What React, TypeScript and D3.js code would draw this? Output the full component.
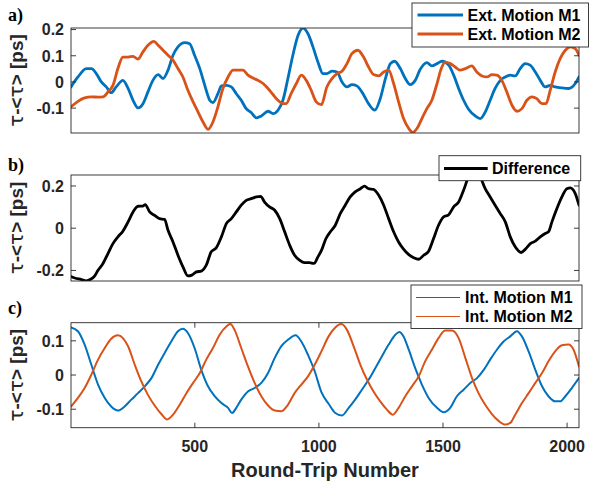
import React from "react";
import * as d3 from "d3";

// ---------- data ----------
const xDomain: [number, number] = [1, 2048];
const xTicks = [500, 1000, 1500, 2000];

const extM1: [number, number][] = [[1,-0.019],[29,0.019],[63,0.051],[83,0.051],[103,0.032],[123,0],[143,-0.019],[163,-0.041],[183,-0.019],[210,0.006],[231,-0.025],[251,-0.07],[271,-0.099],[291,-0.083],[311,-0.038],[331,0.006],[352,0.028],[372,0.013],[392,0.045],[412,0.102],[432,0.134],[459,0.15],[479,0.146],[499,0.102],[520,0.051],[540,-0.013],[560,-0.07],[573,-0.079],[593,-0.045],[607,-0.015],[627,-0.013],[647,-0.019],[667,-0.045],[687,-0.07],[707,-0.102],[727,-0.117],[748,-0.137],[768,-0.13],[795,-0.112],[815,-0.121],[835,-0.108],[855,-0.07],[875,0.013],[895,0.102],[916,0.178],[936,0.206],[956,0.184],[976,0.134],[996,0.076],[1016,0.032],[1032,0.032],[1053,0.041],[1073,0.038],[1093,0],[1113,-0.019],[1133,-0.01],[1153,-0.015],[1173,-0.038],[1200,-0.083],[1225,-0.108],[1247,-0.064],[1268,0.013],[1288,0.07],[1305,0.079],[1328,0.051],[1348,0.013],[1368,-0.01],[1388,0.006],[1408,0.048],[1435,0.074],[1455,0.061],[1476,0.07],[1496,0.079],[1523,0.064],[1543,0.026],[1563,-0.025],[1583,-0.07],[1603,-0.104],[1630,-0.13],[1650,-0.14],[1670,-0.115],[1690,-0.07],[1710,-0.025],[1731,0.006],[1751,0.019],[1771,0.026],[1791,0.023],[1811,0.051],[1831,0.07],[1851,0.064],[1872,0.038],[1892,0.006],[1912,-0.019],[1932,-0.013],[1952,-0.019],[1979,-0.023],[2006,-0.025],[2033,-0.006],[2048,0.019]];

const extM2: [number, number][] = [[1,-0.095],[29,-0.074],[56,-0.061],[83,-0.057],[110,-0.058],[130,-0.057],[150,-0.038],[170,-0.013],[190,0.051],[210,0.095],[231,0.095],[251,0.098],[271,0.087],[291,0.115],[311,0.14],[335,0.155],[352,0.14],[372,0.121],[392,0.102],[412,0.083],[432,0.051],[452,0.019],[472,-0.032],[493,-0.076],[513,-0.115],[533,-0.153],[553,-0.181],[573,-0.153],[593,-0.095],[613,-0.025],[634,0.019],[654,0.045],[674,0.045],[694,0.045],[714,0.026],[734,0.015],[755,0.006],[775,-0.006],[795,-0.025],[815,-0.048],[835,-0.07],[855,-0.083],[868,-0.083],[888,-0.045],[909,-0.006],[929,0.026],[949,0.006],[969,-0.032],[989,-0.076],[1010,-0.087],[1032,-0.019],[1053,0.013],[1073,0.032],[1093,0.041],[1113,0.07],[1133,0.108],[1157,0.121],[1180,0.095],[1200,0.057],[1220,0.028],[1241,0.023],[1261,0.038],[1281,0.045],[1301,-0.006],[1321,-0.076],[1341,-0.14],[1362,-0.178],[1378,-0.193],[1395,-0.178],[1415,-0.14],[1435,-0.102],[1455,-0.07],[1476,-0.006],[1493,0.051],[1509,0.076],[1529,0.07],[1549,0.057],[1569,0.045],[1590,0.051],[1616,0.061],[1636,0.038],[1657,0.023],[1677,0.019],[1697,0.028],[1717,0.026],[1737,0.006],[1757,-0.038],[1778,-0.089],[1798,-0.112],[1818,-0.102],[1838,-0.07],[1858,-0.057],[1878,-0.064],[1899,-0.083],[1915,-0.083],[1932,-0.032],[1952,0.038],[1972,0.089],[1993,0.121],[2013,0.134],[2033,0.127],[2048,0.102]];

const difference: [number, number][] = [[1,-0.229],[16,-0.236],[43,-0.243],[62,-0.249],[80,-0.242],[95,-0.228],[110,-0.199],[130,-0.167],[150,-0.12],[170,-0.073],[190,-0.041],[210,-0.014],[231,0.03],[251,0.077],[271,0.104],[291,0.105],[300,0.112],[318,0.077],[338,0.061],[358,0.045],[378,0.042],[392,-0.01],[412,-0.065],[432,-0.128],[452,-0.183],[472,-0.226],[488,-0.222],[506,-0.207],[526,-0.203],[546,-0.175],[566,-0.112],[586,-0.093],[607,-0.041],[627,0.022],[647,0.045],[667,0.077],[687,0.109],[707,0.132],[727,0.14],[748,0.148],[765,0.151],[781,0.124],[801,0.101],[822,0.085],[842,0.045],[862,-0.017],[882,-0.08],[902,-0.128],[922,-0.151],[942,-0.163],[962,-0.163],[980,-0.167],[996,-0.136],[1012,-0.1],[1028,-0.05],[1046,-0.017],[1066,0.014],[1086,0.069],[1106,0.109],[1126,0.148],[1146,0.172],[1167,0.187],[1184,0.199],[1200,0.187],[1220,0.184],[1241,0.156],[1261,0.109],[1281,0.045],[1301,-0.017],[1321,-0.065],[1341,-0.099],[1362,-0.125],[1382,-0.14],[1402,-0.147],[1422,-0.128],[1442,-0.109],[1462,-0.049],[1482,0.014],[1502,0.053],[1523,0.064],[1543,0.101],[1563,0.124],[1583,0.18],[1603,0.243],[1618,0.265],[1635,0.265],[1650,0.243],[1670,0.187],[1690,0.148],[1710,0.109],[1731,0.069],[1751,0.03],[1771,-0.041],[1791,-0.088],[1815,-0.115],[1832,-0.099],[1852,-0.073],[1872,-0.061],[1892,-0.041],[1912,-0.025],[1925,-0.017],[1939,0.03],[1959,0.093],[1979,0.148],[1999,0.187],[2013,0.191],[2033,0.164],[2048,0.109]];

const intM1: [number, number][] = [[1,0.139],[29,0.128],[56,0.089],[83,0.03],[110,-0.028],[137,-0.067],[163,-0.092],[190,-0.104],[217,-0.092],[244,-0.072],[271,-0.053],[298,-0.033],[325,-0.009],[352,0.03],[378,0.064],[405,0.098],[432,0.128],[452,0.135],[472,0.123],[499,0.079],[526,0.015],[553,-0.033],[580,-0.062],[607,-0.082],[634,-0.096],[650,-0.111],[667,-0.096],[687,-0.072],[714,-0.048],[741,-0.038],[768,-0.023],[795,0.006],[822,0.05],[848,0.084],[875,0.103],[906,0.116],[929,0.098],[956,0.059],[983,0.011],[1010,-0.05],[1039,-0.084],[1066,-0.111],[1093,-0.118],[1120,-0.096],[1146,-0.072],[1173,-0.043],[1200,-0.014],[1227,0.02],[1254,0.055],[1281,0.089],[1308,0.118],[1324,0.126],[1341,0.113],[1362,0.074],[1388,0.02],[1415,-0.028],[1442,-0.067],[1476,-0.096],[1503,-0.109],[1529,-0.096],[1556,-0.062],[1583,-0.043],[1610,-0.023],[1637,-0.009],[1664,0.015],[1690,0.045],[1717,0.074],[1744,0.098],[1771,0.113],[1798,0.128],[1818,0.113],[1845,0.069],[1872,0.015],[1899,-0.033],[1925,-0.062],[1952,-0.077],[1972,-0.077],[1993,-0.062],[2019,-0.038],[2048,-0.009]];

const intM2: [number, number][] = [[1,-0.092],[29,-0.067],[56,-0.038],[83,0.001],[110,0.045],[137,0.079],[163,0.106],[190,0.116],[210,0.108],[231,0.084],[258,0.03],[284,-0.018],[311,-0.058],[338,-0.089],[365,-0.114],[389,-0.13],[412,-0.116],[439,-0.087],[466,-0.053],[493,-0.023],[520,0.006],[546,0.045],[573,0.079],[600,0.118],[627,0.142],[643,0.149],[660,0.132],[687,0.079],[714,0.025],[741,-0.023],[768,-0.062],[795,-0.089],[822,-0.104],[848,-0.106],[875,-0.087],[902,-0.053],[929,-0.028],[956,-0.004],[983,0.03],[1010,0.069],[1039,0.113],[1066,0.139],[1090,0.149],[1113,0.132],[1140,0.084],[1167,0.03],[1194,-0.014],[1220,-0.048],[1247,-0.077],[1274,-0.101],[1298,-0.116],[1321,-0.096],[1348,-0.062],[1375,-0.033],[1402,-0.004],[1428,0.04],[1455,0.074],[1482,0.108],[1509,0.13],[1536,0.13],[1563,0.108],[1590,0.05],[1617,-0.009],[1643,-0.053],[1670,-0.087],[1697,-0.114],[1724,-0.134],[1751,-0.145],[1771,-0.14],[1791,-0.116],[1818,-0.082],[1845,-0.053],[1872,-0.023],[1899,0.006],[1925,0.04],[1952,0.069],[1979,0.087],[2006,0.089],[2026,0.074],[2048,0.025]];

const ticksA = [-0.1, 0, 0.1, 0.2];
const ticksB = [-0.2, 0, 0.2];
const ticksC = [-0.1, 0, 0.1];

// ---------- style ----------
const BLUE = "#0072BD";
const ORANGE = "#D95319";
const AX = "#262626";
const SANS = "'Liberation Sans', Arial, Helvetica, sans-serif";
const SERIF = "'Liberation Serif', 'Times New Roman', serif";
const GREEK = "'DejaVu Sans', sans-serif";
const L = 71, R = 579;

const x = d3.scaleLinear().domain(xDomain).range([L, R]);

type Series = { data: [number, number][]; color: string; width: number };

function Panel(props: {
  id: string; top: number; bottom: number; yDomain: [number, number];
  yTicks: number[]; series: Series[]; xAxis: boolean; letter: string; letterY: number;
}) {
  const { id, top, bottom, yDomain, yTicks, series, xAxis, letter, letterY } = props;
  const y = d3.scaleLinear().domain(yDomain).range([bottom, top]);
  const line = d3.line<[number, number]>().x(d => x(d[0])).y(d => y(d[1])).curve(d3.curveMonotoneX);
  const cy = (top + bottom) / 2;
  const fmt = (v: number) => (v === 0 ? "0" : String(v));
  return (
    <g>
      <defs>
        <clipPath id={id}><rect x={L} y={top} width={R - L} height={bottom - top} /></clipPath>
      </defs>
      <rect x={L} y={top} width={R - L} height={bottom - top} fill="#fff" />
      <g clipPath={`url(#${id})`}>
        {series.map((s, i) => (
          <path key={i} d={line(s.data) || ""} fill="none" stroke={s.color} strokeWidth={s.width} strokeLinejoin="round" strokeLinecap="round" />
        ))}
      </g>
      <rect x={L} y={top} width={R - L} height={bottom - top} fill="none" stroke={AX} strokeWidth={0.9} />
      {yTicks.map(t => (
        <g key={t}>
          <line x1={L} x2={L + 5} y1={y(t)} y2={y(t)} stroke={AX} strokeWidth={0.9} />
          <line x1={R} x2={R - 5} y1={y(t)} y2={y(t)} stroke={AX} strokeWidth={0.9} />
          <text x={L - 7} y={y(t)} dy="0.36em" textAnchor="end" fontFamily={SANS} fontWeight="bold" fontSize={16} fill={AX}>{fmt(t)}</text>
        </g>
      ))}
      {xAxis && xTicks.map(t => (
        <g key={t}>
          <line x1={x(t)} x2={x(t)} y1={bottom} y2={bottom - 5} stroke={AX} strokeWidth={0.9} />
          <line x1={x(t)} x2={x(t)} y1={top} y2={top + 5} stroke={AX} strokeWidth={0.9} />
          <text x={x(t)} y={bottom + 24} textAnchor="middle" fontFamily={SANS} fontWeight="bold" fontSize={16} fill={AX}>{t}</text>
        </g>
      ))}
      <text transform={`translate(23,${cy}) rotate(-90)`} textAnchor="middle" fontFamily={SANS} fontWeight="bold" fontSize={19} fill={AX}>
        <tspan fontFamily={GREEK} fontWeight="normal" fontSize={20}>τ</tspan>-&lt;<tspan fontFamily={GREEK} fontWeight="normal" fontSize={20}>τ</tspan>&gt; [ps]
      </text>
      <text x={8} y={letterY} fontFamily={SERIF} fontWeight="bold" fontSize={18} fill="#000">{letter}</text>
    </g>
  );
}

function Legend(props: { x: number; y: number; w: number; h: number; items: { label: string; color: string; width: number }[]; lineX1: number; lineX2: number; textX: number; rowY: number[] }) {
  const { x: bx, y: by, w, h, items, lineX1, lineX2, textX, rowY } = props;
  return (
    <g>
      <rect x={bx} y={by} width={w} height={h} fill="#fff" stroke={AX} strokeWidth={0.9} />
      {items.map((it, i) => (
        <g key={it.label}>
          <line x1={lineX1} x2={lineX2} y1={rowY[i]} y2={rowY[i]} stroke={it.color} strokeWidth={it.width} />
          <text x={textX} y={rowY[i]} dy="0.36em" fontFamily={SANS} fontWeight="bold" fontSize={16} fill="#000">{it.label}</text>
        </g>
      ))}
    </g>
  );
}

export default function App() {
  return (
    <svg width={589} height={484} style={{ position: "fixed", left: 0, top: 0, background: "#fff" }}>
      <rect width={589} height={484} fill="#fff" />
      <Panel id="ca" top={28} bottom={133} yDomain={[-0.195, 0.206]} yTicks={ticksA} xAxis={false} letter="a)" letterY={21}
        series={[{ data: extM1, color: BLUE, width: 2.8 }, { data: extM2, color: ORANGE, width: 2.8 }]} />
      <Panel id="cb" top={175} bottom={281} yDomain={[-0.25, 0.252]} yTicks={ticksB} xAxis={false} letter="b)" letterY={171}
        series={[{ data: difference, color: "#000", width: 2.8 }]} />
      <Panel id="cc" top={322.7} bottom={427.7} yDomain={[-0.154, 0.153]} yTicks={ticksC} xAxis={true} letter="c)" letterY={314}
        series={[{ data: intM1, color: BLUE, width: 2 }, { data: intM2, color: ORANGE, width: 2 }]} />
      <text x={(L + R) / 2} y={476.5} textAnchor="middle" fontFamily={SANS} fontWeight="bold" fontSize={20} fill={AX}>Round-Trip Number</text>
      <Legend x={412} y={3} w={176.5} h={44} lineX1={417.5} lineX2={463} textX={467.5} rowY={[15, 34]}
        items={[{ label: "Ext. Motion M1", color: BLUE, width: 2.8 }, { label: "Ext. Motion M2", color: ORANGE, width: 2.8 }]} />
      <Legend x={439} y={155.7} w={141.7} h={25} lineX1={444} lineX2={487.7} textX={492} rowY={[168.5]}
        items={[{ label: "Difference", color: "#000", width: 2.8 }]} />
      <Legend x={411} y={285} w={171} h={43.5} lineX1={416} lineX2={460} textX={465} rowY={[297.5, 316.5]}
        items={[{ label: "Int. Motion M1", color: BLUE, width: 1 }, { label: "Int. Motion M2", color: ORANGE, width: 1 }]} />
    </svg>
  );
}
